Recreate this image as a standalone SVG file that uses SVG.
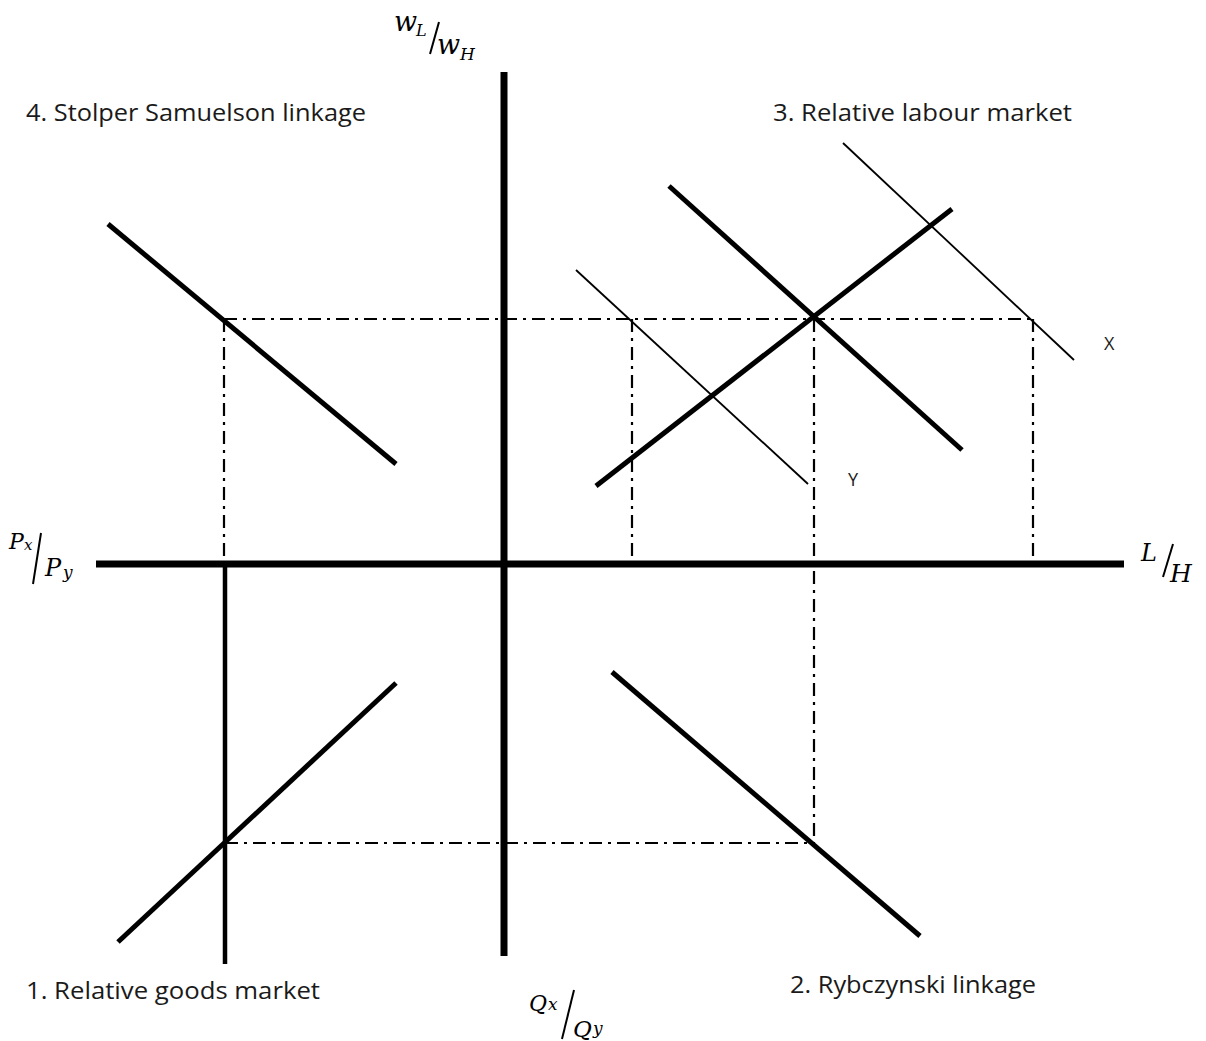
<svg xmlns="http://www.w3.org/2000/svg" width="1206" height="1041" viewBox="0 0 1206 1041">
<style>
.axis{stroke:#000;stroke-width:7;fill:none}
.thick{stroke:#000;stroke-width:5;fill:none}
.thin{stroke:#000;stroke-width:1.8;fill:none}
.dd{stroke:#000;stroke-width:2.2;fill:none;stroke-dasharray:13 6 3 6}
.lbl{font-family:"Open Sans","Liberation Sans",sans-serif;font-size:24px;fill:#1a1a1a}
.m{font-family:"DejaVu Serif","Liberation Serif",serif;font-style:italic;fill:#000}
.sl{stroke:#000;stroke-width:2}
</style>
<rect width="1206" height="1041" fill="#fff"/>
<g id="connectors">
<line class="dd" x1="224" y1="319" x2="1033" y2="319"/>
<line class="dd" x1="224" y1="319" x2="224" y2="564"/>
<line class="dd" x1="632" y1="319" x2="632" y2="556"/>
<line class="dd" x1="1033" y1="319" x2="1033" y2="556"/>
<line class="dd" x1="814" y1="319" x2="814" y2="843"/>
<line class="dd" x1="225" y1="843" x2="814" y2="843"/>
</g>
<g id="axes">
<line class="axis" x1="504" y1="72" x2="504" y2="956"/>
<line class="axis" x1="96" y1="564" x2="1124" y2="564"/>
<line class="thick" x1="225" y1="564" x2="225" y2="964" style="stroke-width:4.5"/>
</g>
<g id="q4-curve"><line class="thick" x1="108" y1="224" x2="396" y2="464"/></g>
<g id="q3-demand"><line class="thick" x1="669" y1="186" x2="962" y2="450"/></g>
<g id="q3-supply"><line class="thick" x1="596" y1="486" x2="952" y2="209"/></g>
<g id="q3-X"><line class="thin" x1="843" y1="143" x2="1074" y2="360"/></g>
<g id="q3-Y"><line class="thin" x1="576" y1="270" x2="808" y2="484"/></g>
<g id="q1-curve"><line class="thick" x1="118" y1="942" x2="396" y2="683"/></g>
<g id="q2-curve"><line class="thick" x1="612" y1="672" x2="920" y2="936"/></g>
<g id="labels">
<text class="lbl" x="26" y="121" textLength="340" lengthAdjust="spacingAndGlyphs">4. Stolper Samuelson linkage</text>
<text class="lbl" x="773" y="121" textLength="299" lengthAdjust="spacingAndGlyphs">3. Relative labour market</text>
<text class="lbl" x="26" y="999" textLength="294" lengthAdjust="spacingAndGlyphs">1. Relative goods market</text>
<text class="lbl" x="790" y="993" textLength="246" lengthAdjust="spacingAndGlyphs">2. Rybczynski linkage</text>
<text class="lbl" x="1104" y="350" style="font-size:18px">X</text>
<text class="lbl" x="848" y="486" style="font-size:18px">Y</text>
</g>
<g id="axis-labels">
<text class="m" x="394" y="31" font-size="27">w</text>
<text class="m" x="416" y="36" font-size="16">L</text>
<line class="sl" x1="439" y1="22" x2="430" y2="54"/>
<text class="m" x="437" y="54" font-size="27">w</text>
<text class="m" x="460" y="60" font-size="17">H</text>

<text class="m" x="9" y="549" font-size="22">P</text>
<text class="m" x="24" y="550" font-size="15">x</text>
<line class="sl" x1="41" y1="533" x2="33" y2="584"/>
<text class="m" x="45" y="576" font-size="24">P</text>
<text class="m" x="63" y="578" font-size="17">y</text>

<text class="m" x="1141" y="561" font-size="24">L</text>
<line class="sl" x1="1173" y1="544" x2="1163" y2="577"/>
<text class="m" x="1170" y="582" font-size="25">H</text>

<text class="m" x="529" y="1011" font-size="22">Q</text>
<text class="m" x="548" y="1010" font-size="17">x</text>
<line class="sl" x1="574" y1="990" x2="562" y2="1039"/>
<text class="m" x="573" y="1037" font-size="23">Q</text>
<text class="m" x="593" y="1034" font-size="17">y</text>
</g>
</svg>
